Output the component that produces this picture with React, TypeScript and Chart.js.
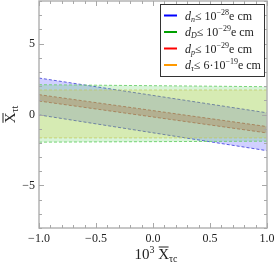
import { useEffect, useRef } from 'react';
import { Chart, registerables } from 'chart.js';
Chart.register(...registerables);

// ---- data ----
const xEnds = [-1, 1];
const blueUpper = [2.57, 0.12];
const blueLower = [-0.03, -2.55];
const greenUpper = [2.1, 1.96];
const greenLower = [-1.95, -1.88];
const orangeUpper = [1.73, 1.73];
const orangeLower = [-1.65, -1.65];
const redUpper = [1.4, -0.85];
const redLower = [0.95, -1.3];

const xTickLabels = ['-1.0', '-0.5', '0.0', '0.5', '1.0'];
const yTickLabels = ['-5', '0', '5'];

const legendColors = ['#0000ff', '#00a000', '#ff0000', '#ff9900'];
const legendSub = ['n', 'D', 'p', 'τ'];
const legendPre = ['10', '10', '10', '6·10'];
const legendExp = ['−28', '−29', '−29', '−19'];

const SERIF = '"Liberation Serif", "DejaVu Serif", serif';

type Seg = { t: string; size: number; italic?: boolean; dy?: number; bar?: boolean };

function drawRich(ctx: CanvasRenderingContext2D, segs: Seg[], x: number, y: number, align: 'left' | 'center') {
  const font = (s: Seg) => `${s.italic ? 'italic ' : ''}${s.size}px ${SERIF}`;
  let total = 0;
  const widths = segs.map((s) => {
    ctx.font = font(s);
    const w = ctx.measureText(s.t).width;
    total += w;
    return w;
  });
  let cx = align === 'center' ? x - total / 2 : x;
  ctx.textBaseline = 'alphabetic';
  ctx.textAlign = 'left';
  segs.forEach((s, i) => {
    ctx.font = font(s);
    ctx.fillText(s.t, cx, y + (s.dy || 0));
    if (s.bar) {
      ctx.save();
      ctx.lineWidth = 1;
      ctx.strokeStyle = ctx.fillStyle as string;
      ctx.beginPath();
      const by = y + (s.dy || 0) - s.size * 0.8;
      ctx.moveTo(cx + 0.5, by);
      ctx.lineTo(cx + widths[i] - 0.5, by);
      ctx.stroke();
      ctx.restore();
    }
    cx += widths[i];
  });
}

const pts = (ys: number[]) => xEnds.map((x, i) => ({ x, y: ys[i] }));

const isMult = (v: number, m: number) => Math.abs(v / m - Math.round(v / m)) < 1e-6;
const fmtX = (v: number) => {
  const s = (Math.round(v * 10) / 10).toFixed(1);
  const lab = s === '-0.0' ? '0.0' : s;
  return xTickLabels.includes(lab) ? lab.replace('-', '−') : '';
};
const fmtY = (v: number) => {
  const s = String(Math.round(v));
  return yTickLabels.includes(s) ? s.replace('-', '−') : '';
};

const framePlugin = {
  id: 'frameTicks',
  afterDraw(chart: any) {
    const { ctx, chartArea: a, scales } = chart;
    ctx.save();
    ctx.strokeStyle = '#b4b4b4';
    ctx.lineWidth = 1.5;
    ctx.strokeRect(a.left, a.top, a.right - a.left, a.bottom - a.top);
    ctx.lineWidth = 1;
    ctx.strokeStyle = '#a8a8a8';
    const xs = scales.x;
    xs.ticks.forEach((t: any) => {
      const px = Math.round(xs.getPixelForValue(t.value)) + 0.5;
      const len = isMult(t.value, 0.5) ? 5 : 3;
      ctx.beginPath();
      ctx.moveTo(px, a.bottom);
      ctx.lineTo(px, a.bottom - len);
      ctx.moveTo(px, a.top);
      ctx.lineTo(px, a.top + len);
      ctx.stroke();
    });
    const ys = scales.y;
    ys.ticks.forEach((t: any) => {
      const py = Math.round(ys.getPixelForValue(t.value)) + 0.5;
      const len = isMult(t.value, 5) ? 5 : 3;
      ctx.beginPath();
      ctx.moveTo(a.left, py);
      ctx.lineTo(a.left + len, py);
      ctx.moveTo(a.right, py);
      ctx.lineTo(a.right - len, py);
      ctx.stroke();
    });
    ctx.restore();

    // axis titles
    ctx.save();
    ctx.fillStyle = '#222';
    const cxTitle = (a.left + a.right) / 2 + 3;
    drawRich(
      ctx,
      [
        { t: '10', size: 15 },
        { t: '3', size: 10, dy: -6 },
        { t: ' ', size: 15 },
        { t: 'X', size: 15, bar: true },
        { t: 'τc', size: 10, dy: 3 },
      ],
      cxTitle,
      259,
      'center'
    );
    ctx.translate(15, (a.top + a.bottom) / 2);
    ctx.rotate(-Math.PI / 2);
    drawRich(
      ctx,
      [
        { t: 'X', size: 15, bar: true },
        { t: 'τt', size: 10, dy: 3 },
      ],
      0,
      0,
      'center'
    );
    ctx.restore();

    // legend
    ctx.save();
    const lx = 160, ly = 4, lw = 104, lh = 72;
    ctx.fillStyle = '#ffffff';
    ctx.fillRect(lx, ly, lw, lh);
    ctx.strokeStyle = '#333';
    ctx.lineWidth = 1;
    ctx.strokeRect(lx + 0.5, ly + 0.5, lw, lh);
    legendColors.forEach((c, i) => {
      const ry = 15.5 + i * 16.5;
      ctx.strokeStyle = c;
      ctx.lineWidth = 2;
      ctx.beginPath();
      ctx.moveTo(164, ry);
      ctx.lineTo(177, ry);
      ctx.stroke();
      ctx.fillStyle = '#222';
      drawRich(
        ctx,
        [
          { t: 'd', size: 12, italic: true },
          { t: legendSub[i], size: 8, italic: true, dy: 2 },
          { t: '≤ ' + legendPre[i], size: 12 },
          { t: legendExp[i], size: 8, dy: -5 },
          { t: 'e cm', size: 12 },
        ],
        185,
        ry + 4,
        'left'
      );
    });
    ctx.restore();
  },
};

export default function App() {
  const ref = useRef<HTMLCanvasElement>(null);
  useEffect(() => {
    document.body.style.margin = '0';
    const band = (up: number[], lo: number[], line: string, fillC: string) => [
      {
        data: pts(up),
        borderColor: line,
        borderWidth: 1,
        borderDash: [3, 2],
        pointRadius: 0,
        fill: '+1',
        backgroundColor: fillC,
      },
      {
        data: pts(lo),
        borderColor: line,
        borderWidth: 1,
        borderDash: [3, 2],
        pointRadius: 0,
        fill: false,
      },
    ];
    const chart = new Chart(ref.current as HTMLCanvasElement, {
      type: 'line',
      data: {
        datasets: [
          ...band(greenUpper, greenLower, 'rgba(110,210,110,0.9)', 'rgba(60,200,60,0.2)'),
          ...band(orangeUpper, orangeLower, 'rgba(220,200,100,0.7)', 'rgba(240,200,40,0.22)'),
          ...band(blueUpper, blueLower, 'rgba(80,80,220,0.9)', 'rgba(40,40,255,0.22)'),
          ...band(redUpper, redLower, 'rgba(210,80,50,0.8)', 'rgba(220,70,40,0.32)'),
        ] as any,
      },
      options: {
        animation: false,
        responsive: false,
        maintainAspectRatio: false,
        layout: { padding: { left: 0, top: 1, right: 8, bottom: 0 } },
        plugins: { legend: { display: false }, tooltip: { enabled: false } },
        scales: {
          x: {
            type: 'linear',
            min: -1,
            max: 1,
            grid: { display: false, drawTicks: false },
            border: { display: false },
            afterFit: (s: any) => {
              s.height = 39;
              s.paddingLeft = 0;
              s.paddingRight = 0;
            },
            ticks: {
              stepSize: 0.1,
              autoSkip: false,
              maxRotation: 0,
              padding: 4,
              color: '#222',
              font: { family: SERIF, size: 12 },
              callback: (v: any) => fmtX(Number(v)),
            },
          },
          y: {
            type: 'linear',
            min: -8,
            max: 8,
            grid: { display: false, drawTicks: false },
            border: { display: false },
            afterFit: (s: any) => {
              s.width = 39;
              s.paddingTop = 0;
              s.paddingBottom = 0;
            },
            ticks: {
              stepSize: 1,
              autoSkip: false,
              padding: 4,
              color: '#222',
              font: { family: SERIF, size: 12 },
              callback: (v: any) => fmtY(Number(v)),
            },
          },
        },
      },
      plugins: [framePlugin],
    });
    return () => chart.destroy();
  }, []);
  return (
    <div style={{ width: 275, height: 267 }}>
      <canvas ref={ref} width={275} height={267} style={{ display: 'block' }} />
    </div>
  );
}
